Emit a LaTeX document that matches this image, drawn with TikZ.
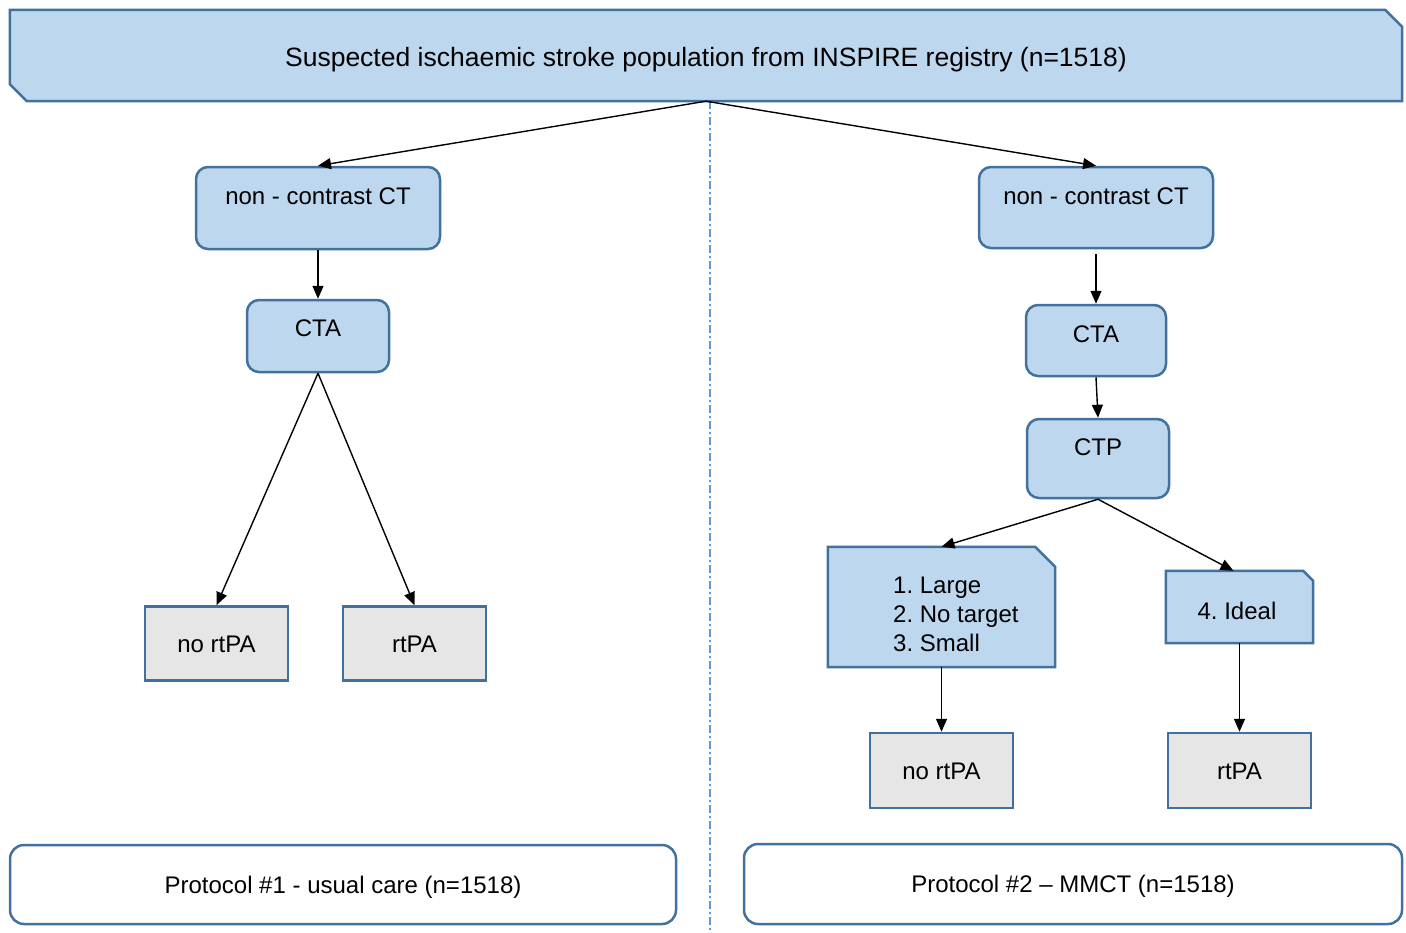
\documentclass[tikz,border=0pt]{standalone}
\usepackage{fontspec}
\setmainfont{Liberation Sans}
\usetikzlibrary{arrows.meta}
\definecolor{boxfill}{HTML}{BDD7EE}
\definecolor{boxline}{HTML}{41719C}
\definecolor{grayfill}{HTML}{E6E6E6}
\definecolor{divline}{HTML}{5B9BD5}
\begin{document}
\frenchspacing
\begin{tikzpicture}[x=1pt,y=-1pt,
  base/.style={draw=boxline, line width=2.5pt, inner sep=0pt, font=\fontsize{24}{29}\selectfont,
    text height=17.2pt, text depth=0pt},
  rbox/.style={base, fill=boxfill, rounded corners=12pt},
  gbox/.style={base, fill=grayfill, minimum width=143pt, minimum height=74pt},
  pbox/.style={base, fill=white, rounded corners=14pt},
  frame/.style={draw=none, inner sep=0pt, rectangle},
  cpath/.style={draw=boxline, line width=2.5pt, fill=boxfill, line join=miter},
  arr/.style={-{Triangle[length=13pt,width=11pt]}, line width=1.4pt, black},
  txt/.style={font=\fontsize{24}{29}\selectfont, inner sep=0pt, text height=17.2pt, text depth=0pt},
  div/.style={draw=divline, line width=1.5pt, dash pattern=on 8pt off 3pt on 2pt off 3pt}
]
\useasboundingbox (0,0) rectangle (1406,932);
\fill[white] (0,0) rectangle (1406,932);

% divider
\coordinate (d1) at (710,101);
\coordinate (d2) at (710,932);
\draw[div] (d1) -- (d2);

% banner
\node[frame, minimum width=1392pt, minimum height=91pt] (top) at (706,55.5) {};
\draw[cpath] (top.north west) -- ([xshift=-17pt]top.north east) -- ([yshift=-17pt]top.north east)
  -- (top.south east) -- ([xshift=17pt]top.south west) -- ([yshift=17pt]top.south west) -- cycle;
\node[txt, font=\fontsize{26.5}{30}\selectfont, text height=19pt] (toptxt) at (706,57)
  {Suspected ischaemic stroke population from INSPIRE registry (n=1518)};

% left branch
\node[rbox, minimum width=244pt, minimum height=82pt] (lncct) at (318,208) {};
\node[txt] (lnccttxt) at (318,196) {non - contrast CT};
\node[rbox, minimum width=142pt, minimum height=72pt] (lcta) at (318,336) {};
\node[txt] (lctatxt) at (318,328) {CTA};
\node[gbox] (lno) at (216.5,643.5) {no rtPA};
\node[gbox] (lyes) at (414.5,643.5) {rtPA};

% right branch
\node[rbox, minimum width=234pt, minimum height=81pt] (rncct) at (1096,207.5) {};
\node[txt] (rnccttxt) at (1096,196) {non - contrast CT};
\node[rbox, minimum width=140pt, minimum height=71pt] (rcta) at (1096,340.5) {};
\node[txt] (rctatxt) at (1096,334) {CTA};
\node[rbox, minimum width=142pt, minimum height=79pt] (ctp) at (1098,458.5) {};
\node[txt] (ctptxt) at (1098,447) {CTP};

\node[frame, minimum width=227pt, minimum height=120pt] (large) at (941.5,607) {};
\draw[cpath] (large.south west) -- (large.north west) -- ([xshift=-20pt]large.north east)
  -- ([yshift=-20pt]large.north east) -- (large.south east) -- cycle;
\node[font=\fontsize{24}{29}\selectfont, inner sep=0pt, align=left, anchor=north west] (largetxt)
  at (893,576.4) {1. Large\\2. No target\\3. Small};

\node[frame, minimum width=147pt, minimum height=72pt] (ideal) at (1239.5,607) {};
\draw[cpath] (ideal.south west) -- (ideal.north west) -- ([xshift=-10pt]ideal.north east)
  -- ([yshift=-10pt]ideal.north east) -- (ideal.south east) -- cycle;
\node[txt] (idealtxt) at (1237,611) {4. Ideal};

\node[gbox, minimum height=75pt] (rno) at (941.5,770.5) {no rtPA};
\node[gbox, minimum height=75pt] (ryes) at (1239.5,770.5) {rtPA};

% protocols
\node[pbox, minimum width=666pt, minimum height=79pt] (p1) at (343,884.5) {Protocol \#1 - usual care (n=1518)};
\node[pbox, minimum width=658pt, minimum height=80pt] (p2) at (1073,884) {Protocol \#2 -- MMCT (n=1518)};

% connectors
\draw[arr] (top.south) -- (lncct.north);
\draw[arr] (top.south) -- (rncct.north);
\draw[arr] (lncct.south) -- (lcta.north);
\draw[arr] (lcta.south) -- (lno.north);
\draw[arr] (lcta.south) -- (lyes.north);
\draw[arr, shorten <=5pt] (rncct.south) -- (rcta.north);
\draw[arr] (rcta.south) -- (ctp.north);
\draw[arr] (ctp.south) -- (large.north);
\draw[arr] (ctp.south) -- ([xshift=-6pt]ideal.north);
\draw[arr] (large.south) -- (rno.north);
\draw[arr] (ideal.south) -- (ryes.north);
\end{tikzpicture}
\end{document}
